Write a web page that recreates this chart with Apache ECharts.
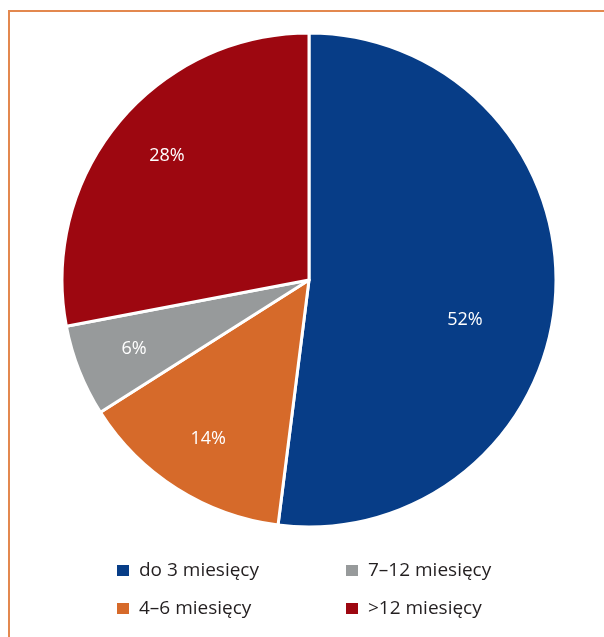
<!DOCTYPE html>
<html>
<head>
<meta charset="utf-8">
<script src="https://cdn.jsdelivr.net/npm/echarts@6/dist/echarts.min.js"></script>
<style>
  html, body { margin: 0; padding: 0; background: #fff; }
  #chart { width: 604px; height: 637px; }
</style>
</head>
<body>
<div id="chart"></div>
<script>
// Share of cases by duration
const categories = ['do 3 miesięcy', '4–6 miesięcy', '7–12 miesięcy', '>12 miesięcy'];
const shares = [52, 14, 6, 28];
const colors = ['#073D87', '#D66A2A', '#979A9B', '#9D0710'];

const FONT = '"Open Sans", "Noto Sans", sans-serif';
const CX = 309, CY = 280, R = 247;

const chart = echarts.init(document.getElementById('chart'), null, { renderer: 'canvas' });

const data = categories.map((name, i) => ({
  name,
  value: shares[i],
  itemStyle: { color: colors[i] }
}));

// Label layer: transparent ring so the percentages sit further out
const labelData = categories.map((name, i) => ({
  name,
  value: shares[i],
  itemStyle: { color: 'rgba(0,0,0,0)', borderWidth: 0 },
  label: i === 0 ? { offset: [-32, 28] } : (i === 3 ? { offset: [3, -4] } : {})
}));

// Legend placed as a 2x2 grid
const legendSlots = [
  { left: 115, top: 561 },
  { left: 115, top: 599 },
  { left: 344, top: 561 },
  { left: 344, top: 599 }
];
const legends = categories.map((name, i) => ({
  data: [name],
  left: legendSlots[i].left,
  top: legendSlots[i].top,
  padding: 0,
  icon: 'rect',
  itemWidth: 14,
  itemHeight: 13,
  selectedMode: false,
  textStyle: {
    fontFamily: FONT,
    fontSize: 19,
    color: '#231F20',
    padding: [0, 0, 0, 4]
  }
}));

chart.setOption({
  animation: false,
  backgroundColor: '#fff',
  graphic: [{
    type: 'rect',
    shape: { x: 9, y: 11, width: 700, height: 700 },
    style: { fill: 'none', stroke: '#E3884F', lineWidth: 2 },
    silent: true,
    z: 0
  }],
  legend: legends,
  series: [
    {
      type: 'pie',
      center: [CX, CY],
      radius: [0, R],
      startAngle: 90,
      clockwise: true,
      data,
      itemStyle: { borderColor: '#fff', borderWidth: 3 },
      label: { show: false },
      labelLine: { show: false },
      emphasis: { disabled: true }
    },
    {
      type: 'pie',
      center: [CX, CY],
      radius: [R * 0.5, R],
      startAngle: 90,
      clockwise: true,
      silent: true,
      data: labelData,
      label: {
        show: true,
        position: 'inside',
        formatter: '{c}%',
        color: '#fff',
        fontFamily: FONT,
        fontSize: 18
      },
      labelLine: { show: false },
      emphasis: { disabled: true },
      z: 3
    }
  ]
});
</script>
</body>
</html>
